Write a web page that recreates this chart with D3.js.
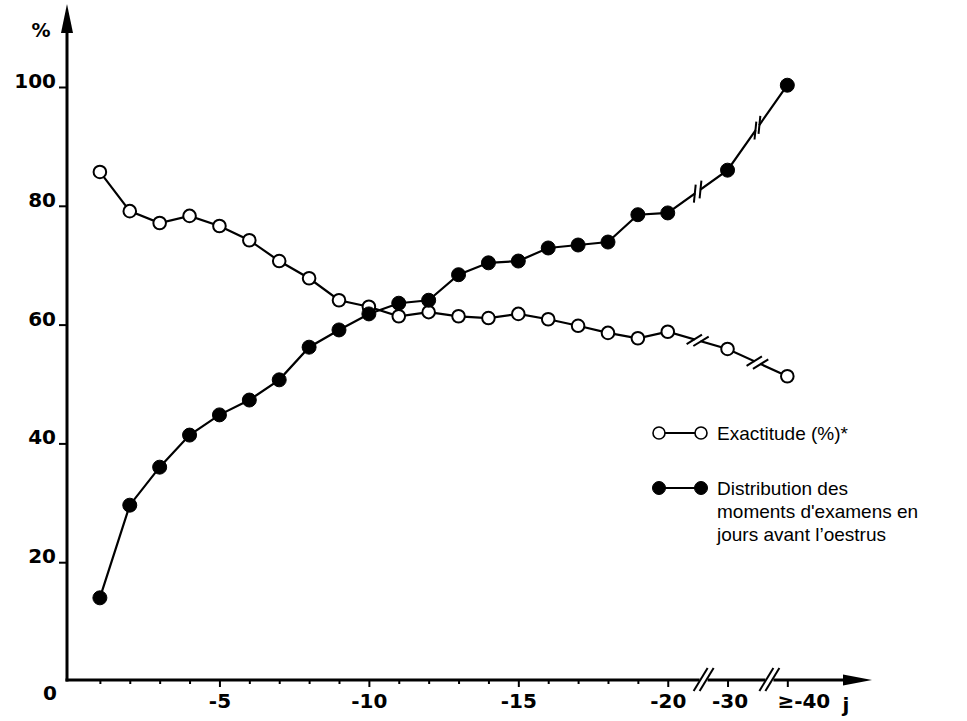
<!DOCTYPE html>
<html>
<head>
<meta charset="utf-8">
<script src="https://cdn.jsdelivr.net/npm/d3@7/dist/d3.min.js"></script>
<style>
  body { margin: 0; background: #fff; }
  .tick text { font-family: "DejaVu Sans", sans-serif; font-weight: bold; font-size: 20px; fill: #000; }
  .legend text { font-family: "Liberation Sans", Arial, sans-serif; font-size: 19px; fill: #000; }
</style>
</head>
<body>
<svg id="chart" width="967" height="721"></svg>
<script>
// x positions: days -1 .. -20, then a broken axis for -30 and >=-40
const slots = [1,2,3,4,5,6,7,8,9,10,11,12,13,14,15,16,17,18,19,20,22,24];
const exactitude = [85.7,79.1,77.1,78.3,76.6,74.2,70.7,67.8,64.1,63.0,61.4,62.1,61.4,61.1,61.8,60.9,59.8,58.6,57.7,58.8,55.9,51.3];
const distribution = [14.0,29.6,36.0,41.4,44.8,47.3,50.7,56.2,59.1,61.8,63.6,64.1,68.4,70.4,70.7,72.9,73.4,73.9,78.5,78.8,86.0,100.3];
const xTickSlots = [5,10,15,20,22,24];
const xTickLabels = ["-5","-10","-15","-20","-30","\u2265-40"];
const yTicks = [20,40,60,80,100];
const axisBreaks = [21.2, 23.4];   // where the x axis is cut
const lineBreaks = [21, 23];       // where the curves are cut

const svg = d3.select("#chart");
const originX = 67, originY = 680;

const x = d3.scaleLinear().domain([0, 26.8]).range([70, 871]);
const y = d3.scaleLinear().domain([0, 100]).range([681, 87]);

// ---- axes ----
const xAxis = d3.axisBottom(x)
  .tickValues(slots)
  .tickSize(5)
  .tickPadding(9)
  .tickFormat(d => {
    const i = xTickSlots.indexOf(d);
    return i >= 0 ? xTickLabels[i] : "";
  });

const gx = svg.append("g").attr("transform", "translate(0," + originY + ")").call(xAxis);
gx.select(".domain").remove();
gx.selectAll(".tick line").attr("stroke", "#000").attr("stroke-width", 2)
  .attr("y2", d => xTickSlots.includes(d) ? 7 : 4);
gx.selectAll(".tick").filter(d => d === 22).select("text").attr("dx", 2);
gx.selectAll(".tick").filter(d => d === 24).select("text").attr("dx", 16);

const yAxis = d3.axisLeft(y).tickValues(yTicks).tickSize(8).tickPadding(3);
const gy = svg.append("g").attr("transform", "translate(" + originX + ",0)").call(yAxis);
gy.select(".domain").remove();
gy.selectAll(".tick line").attr("stroke", "#000").attr("stroke-width", 2);
gy.selectAll(".tick text").attr("dy", "0.02em");

// axis lines with arrows
svg.append("line").attr("x1", originX).attr("y1", originY + 1.5).attr("x2", originX).attr("y2", 25)
  .attr("stroke", "#000").attr("stroke-width", 3);
svg.append("path").attr("d", d3.line()([[originX, 4], [originX - 6, 33], [originX + 6, 33]]) + "Z")
  .attr("fill", "#000");
svg.append("line").attr("x1", originX - 1.5).attr("y1", originY).attr("x2", 850).attr("y2", originY)
  .attr("stroke", "#000").attr("stroke-width", 3);
svg.append("path").attr("d", d3.line()([[872, originY], [843, originY - 5.5], [843, originY + 5.5]]) + "Z")
  .attr("fill", "#000");

// x axis breaks
axisBreaks.forEach(s => {
  const cx = x(s);
  svg.append("line").attr("x1", cx - 4).attr("y1", originY).attr("x2", cx + 4).attr("y2", originY)
    .attr("stroke", "#fff").attr("stroke-width", 5);
  [-3, 3].forEach(o => {
    svg.append("line")
      .attr("x1", cx + o - 7).attr("y1", originY + 11)
      .attr("x2", cx + o + 7).attr("y2", originY - 12)
      .attr("stroke", "#000").attr("stroke-width", 2);
  });
});

// axis texts
const boldText = (tx, ty, str, size) => svg.append("text")
  .attr("x", tx).attr("y", ty).attr("text-anchor", "middle")
  .attr("font-family", "DejaVu Sans, sans-serif").attr("font-weight", "bold")
  .attr("font-size", size).text(str);
boldText(50, 700, "0", 20);
boldText(41, 37, "%", 19);
boldText(846, 712, "j", 20);

// ---- series ----
const pts = vals => slots.map((s, i) => [x(s), y(vals[i])]);
const line = d3.line();

function drawSeries(vals, filled) {
  const p = pts(vals);
  svg.append("path").attr("d", line(p)).attr("fill", "none")
    .attr("stroke", "#000").attr("stroke-width", 2.2);

  // breaks on the curve
  lineBreaks.forEach(b => {
    const i = slots.findIndex(s => s > b);
    const a = p[i - 1], c = p[i];
    const mx = (a[0] + c[0]) / 2, my = (a[1] + c[1]) / 2;
    const ang = Math.atan2(c[1] - a[1], c[0] - a[0]);
    const ux = Math.cos(ang), uy = Math.sin(ang);
    svg.append("line")
      .attr("x1", mx - ux * 3).attr("y1", my - uy * 3)
      .attr("x2", mx + ux * 3).attr("y2", my + uy * 3)
      .attr("stroke", "#fff").attr("stroke-width", 5);
    const bang = filled ? -Math.PI / 2 + 0.1 : -0.55;
    const bx = Math.cos(bang) * 9, by = Math.sin(bang) * 9;
    [-3.5, 3.5].forEach(o => {
      const ox = mx + ux * o, oy = my + uy * o;
      svg.append("line")
        .attr("x1", ox - bx).attr("y1", oy - by)
        .attr("x2", ox + bx).attr("y2", oy + by)
        .attr("stroke", "#000").attr("stroke-width", 2);
    });
  });

  svg.append("g").selectAll("circle").data(p).enter().append("circle")
    .attr("cx", d => d[0]).attr("cy", d => d[1])
    .attr("r", filled ? 7 : 6.3)
    .attr("fill", filled ? "#000" : "#fff")
    .attr("stroke", "#000").attr("stroke-width", filled ? 1 : 2);
}

drawSeries(exactitude, false);
drawSeries(distribution, true);

// ---- legend ----
const legend = svg.append("g").attr("class", "legend");
function legendSymbol(ly, filled) {
  legend.append("line").attr("x1", 659).attr("y1", ly).attr("x2", 701).attr("y2", ly)
    .attr("stroke", "#000").attr("stroke-width", 2);
  [659, 701].forEach(cx => legend.append("circle").attr("cx", cx).attr("cy", ly)
    .attr("r", filled ? 6.5 : 6).attr("fill", filled ? "#000" : "#fff")
    .attr("stroke", "#000").attr("stroke-width", filled ? 1 : 1.6));
}
legendSymbol(433, false);
legendSymbol(488, true);
legend.append("text").attr("x", 717).attr("y", 440).text("Exactitude (%)*");
["Distribution des", "moments d'examens en", "jours avant l\u2019oestrus"].forEach((t, i) => {
  legend.append("text").attr("x", 717).attr("y", 495 + i * 23).text(t);
});
</script>
</body>
</html>
